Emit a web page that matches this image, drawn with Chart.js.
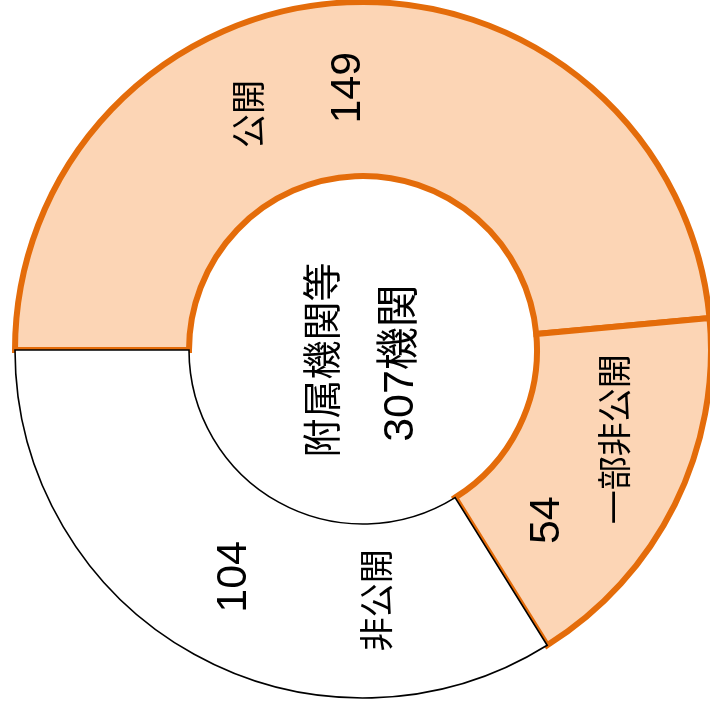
<!DOCTYPE html>
<html>
<head>
<meta charset="utf-8">
<script src="https://cdn.jsdelivr.net/npm/chart.js@4"></script>
<style>
html, body { margin: 0; padding: 0; background: #fff; }
</style>
</head>
<body>
<canvas id="chart-area" width="710" height="707"></canvas>
<script>
var categorias = ['公開', '一部非公開', '非公開'];
var totales = [149, 54, 104];
var tituloCentro = '附属機関等';
var unidad = '機関';

// posicion de etiquetas: [desplazamiento angular (grados) desde el centro del arco, fraccion del anillo]
var posNombre = [[-23.4, 0.51], [-6.8, 0.53], [-32, 0.44]];
var posValor = [[-0.7, 0.51], [16.4, 0.44], [0.6, 0.50]];

function texto(ctx, p, mid, pos, str, font) {
	var a = mid + pos[0] * Math.PI / 180;
	var r = p.innerRadius + (p.outerRadius - p.innerRadius) * pos[1];
	ctx.save();
	ctx.translate(p.x + r * Math.cos(a), p.y + r * Math.sin(a));
	ctx.rotate(-Math.PI / 2);
	ctx.font = font;
	ctx.fillText(str, 0, 0);
	ctx.restore();
}

var etiquetas = {
	id: 'etiquetas',
	afterDatasetsDraw: function(chart) {
		var ctx = chart.ctx;
		var arcos = chart.getDatasetMeta(0).data;
		ctx.save();
		ctx.fillStyle = '#000';
		ctx.textAlign = 'center';
		ctx.textBaseline = 'middle';
		var p0 = null;
		arcos.forEach(function(arc, i) {
			var p = arc.getProps(['x', 'y', 'startAngle', 'endAngle', 'innerRadius', 'outerRadius'], true);
			p0 = p;
			var mid = (p.startAngle + p.endAngle) / 2;
			texto(ctx, p, mid, posNombre[i], categorias[i], '34px "Noto Sans CJK JP"');
			texto(ctx, p, mid, posValor[i], String(totales[i]), '43px "Liberation Sans"');
		});
		// texto central
		var total = totales.reduce(function(a, b) { return a + b; }, 0);
		ctx.translate(p0.x, p0.y);
		ctx.rotate(-Math.PI / 2);
		ctx.font = '39px "Noto Sans CJK JP"';
		ctx.fillText(tituloCentro, -10, -42);
		ctx.font = '43px "Liberation Sans", "Noto Sans CJK JP"';
		ctx.fillText(total + unidad, -13, 38);
		ctx.restore();
	}
};

var config = {
	type: 'doughnut',
	data: {
		labels: categorias,
		datasets: [{
			data: totales,
			backgroundColor: ['#FCD5B5', '#FCD5B5', '#FFFFFF'],
			borderColor: ['#E46C0A', '#E46C0A', '#000000'],
			borderWidth: [6, 6, 1.6],
			borderAlign: 'center',
			borderJoinStyle: 'miter'
		}]
	},
	options: {
		responsive: false,
		animation: false,
		events: [],
		rotation: -90,
		cutout: '50%',
		radius: 348,
		layout: {
			padding: { left: 16, right: 0, top: 2, bottom: 9 }
		},
		plugins: {
			legend: { display: false },
			tooltip: { enabled: false }
		}
	},
	plugins: [etiquetas]
};

var ctx = document.getElementById('chart-area').getContext('2d');
window.myDoughnut = new Chart(ctx, config);
</script>
</body>
</html>
